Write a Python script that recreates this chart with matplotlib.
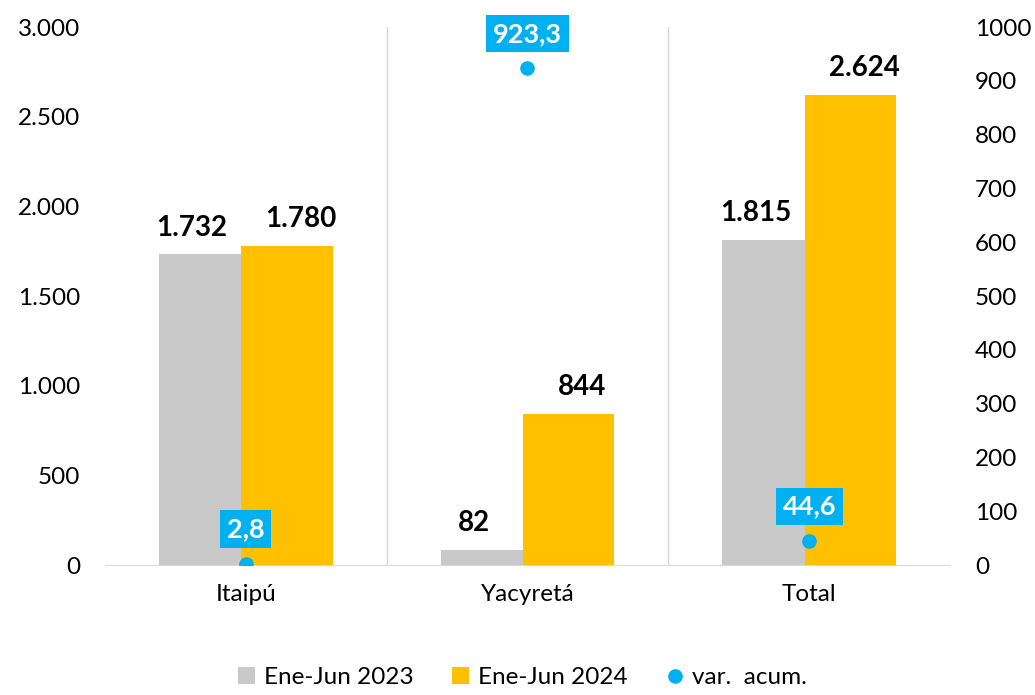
import matplotlib.pyplot as plt
import numpy as np
from matplotlib.ticker import FuncFormatter

plt.rcParams['font.family'] = ['Lato', 'DejaVu Sans']

categories = ['Itaipú', 'Yacyretá', 'Total']
ene_jun_2023 = [1732, 82, 1815]
ene_jun_2024 = [1780, 844, 2624]
var_acum = [2.8, 923.3, 44.6]
labels_var = ['2,8', '923,3', '44,6']

gray = '#C9C9C9'
orange = '#FFC000'
blue = '#00B0F0'

fig = plt.figure(figsize=(10.35, 6.95), dpi=100)
ax = fig.add_axes([0.1014, 0.187, 0.8165, 0.774])
ax2 = ax.twinx()

x = np.arange(len(categories))
w = 0.324
off = 0.146

ax.bar(x - off, ene_jun_2023, w, color=gray, zorder=2, label='Ene-Jun 2023')
ax.bar(x + off, ene_jun_2024, w, color=orange, zorder=3, label='Ene-Jun 2024')

def thousands(v, pos=None):
    return f'{int(v):,}'.replace(',', '.')

for xi, v in zip(x - off, ene_jun_2023):
    ax.annotate(thousands(v), (xi, v), xytext=(-9, 10), textcoords='offset points',
                ha='center', va='bottom', fontsize=20, fontweight='bold')
for xi, v in zip(x + off, ene_jun_2024):
    ax.annotate(thousands(v), (xi, v), xytext=(10, 10), textcoords='offset points',
                ha='center', va='bottom', fontsize=20, fontweight='bold')

ax.set_xlim(-0.5, 2.5)
ax.set_ylim(0, 3000)
ax.set_yticks(np.arange(0, 3001, 500))
ax.yaxis.set_major_formatter(FuncFormatter(thousands))
ax.set_xticks(x)
ax.set_xticklabels(categories)

ax2.set_ylim(0, 1000)
ax2.set_yticks(np.arange(0, 1001, 100))

# separadores de categorias
for b in [0.5, 1.5]:
    ax.axvline(b, color='#D9D9D9', lw=1, zorder=1)

ax2.plot(x, var_acum, 'o', color=blue, markersize=9.5, zorder=5, label='var.  acum.')
for xi, v, t in zip(x, var_acum, labels_var):
    ax2.annotate(t, (xi, v), xytext=(0, 25), textcoords='offset points',
                 ha='center', va='center', fontsize=19.5, fontweight='bold', color='white',
                 bbox=dict(boxstyle='square,pad=0.25', fc=blue, ec='none'))

for a in (ax, ax2):
    for s in a.spines.values():
        s.set_visible(False)
    a.tick_params(length=0, labelsize=17.5, pad=18)
ax.spines['bottom'].set_visible(True)
ax.spines['bottom'].set_color('#D9D9D9')
ax.tick_params(axis='x', pad=14)

h1, l1 = ax.get_legend_handles_labels()
h2, l2 = ax2.get_legend_handles_labels()
fig.legend(h1 + h2, l1 + l2, loc='lower center', bbox_to_anchor=(0.505, -0.022), ncol=3,
           frameon=False, fontsize=17.5, handlelength=0.7, handleheight=0.7,
           columnspacing=1.6, handletextpad=0.35)

fig.savefig('out.png', dpi=100)
